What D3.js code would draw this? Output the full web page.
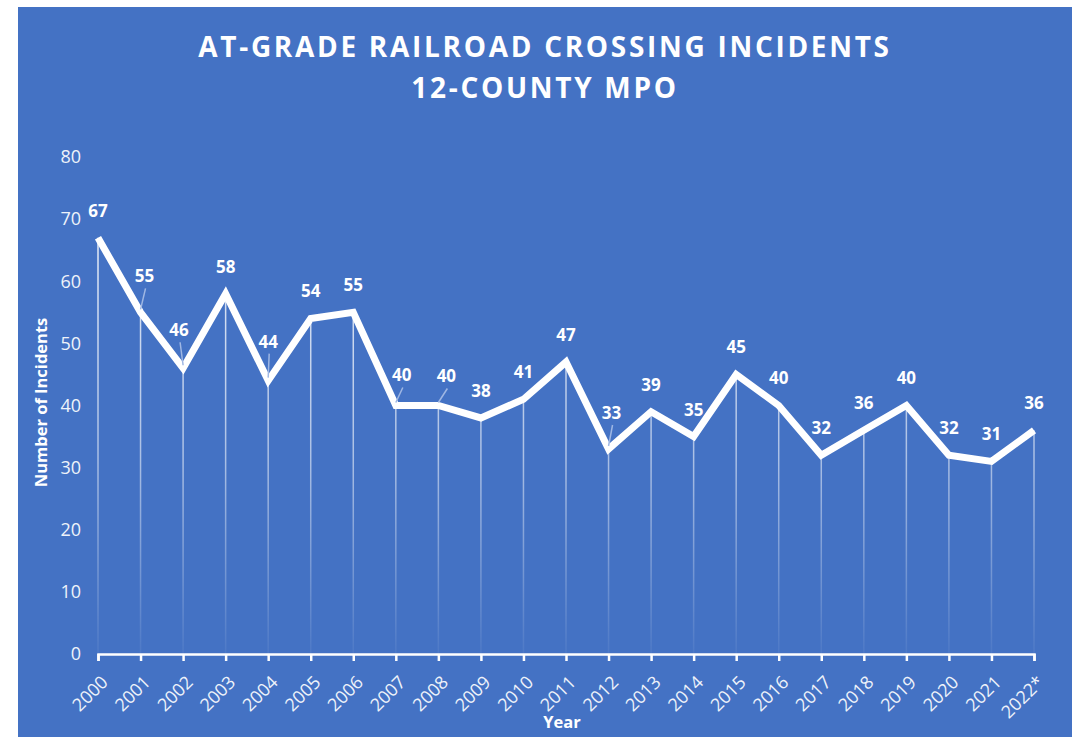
<!DOCTYPE html>
<html>
<head>
<meta charset="utf-8">
<script src="https://cdn.jsdelivr.net/npm/d3@7"></script>
<style>
  body { margin: 0; background: #fff; }
  svg { display: block; }
</style>
</head>
<body>
<div id="chart"></div>
<script>
// data
const years = ['2000', '2001', '2002', '2003', '2004', '2005', '2006', '2007', '2008', '2009', '2010',
  '2011', '2012', '2013', '2014', '2015', '2016', '2017', '2018', '2019', '2020', '2021', '2022*'];
const incidents = [67, 55, 46, 58, 44, 54, 55, 40, 40, 38, 41, 47, 33, 39, 35, 45, 40, 32, 36, 40, 32, 31, 36];
const yTicks = [0, 10, 20, 30, 40, 50, 60, 70, 80];
const titleLines = ['AT-GRADE RAILROAD CROSSING INCIDENTS', '12-COUNTY MPO'];

let width = 1076, height = 737;
let margin = { top: 157, right: 42, bottom: 83, left: 98 };
let w = width - margin.left - margin.right;
let h = height - margin.top - margin.bottom;

let svg = d3.select('#chart').append('svg')
  .attr('width', width)
  .attr('height', height)
  .style('font-family', '"Open Sans", sans-serif');

// blue panel
svg.append('rect')
  .attr('x', 18).attr('y', 7)
  .attr('width', 1054).attr('height', 730)
  .attr('fill', '#4472C4');

let g = svg.append('g')
  .attr('transform', 'translate(' + margin.left + ',' + margin.top + ')');

let xScale = d3.scalePoint().domain(years).range([0, w]);
let yScale = d3.scaleLinear().domain([0, 80]).range([h, 0]);

// fading drop lines
let grad = svg.append('defs').append('linearGradient')
  .attr('id', 'dropFade')
  .attr('gradientUnits', 'userSpaceOnUse')
  .attr('x1', 0).attr('x2', 0)
  .attr('y1', yScale(70)).attr('y2', yScale(0));
grad.append('stop').attr('offset', '0%').attr('stop-color', '#fff').attr('stop-opacity', 0.9);
grad.append('stop').attr('offset', '55%').attr('stop-color', '#fff').attr('stop-opacity', 0.55);
grad.append('stop').attr('offset', '100%').attr('stop-color', '#fff').attr('stop-opacity', 0.05);

g.selectAll('.drop')
  .data(incidents)
  .enter()
  .append('line')
  .attr('class', 'drop')
  .attr('x1', (d, i) => xScale(years[i]))
  .attr('x2', (d, i) => xScale(years[i]) + 0.01)
  .attr('y1', d => yScale(d))
  .attr('y2', yScale(0))
  .attr('stroke', 'url(#dropFade)')
  .attr('stroke-width', 1.5);

// y axis labels (no line)
let yAxis = d3.axisLeft(yScale).tickValues(yTicks).tickSize(0).tickPadding(17);
let yg = g.append('g').call(yAxis);
yg.select('.domain').remove();
yg.selectAll('text')
  .attr('fill', '#eef2fa')
  .style('font-size', '18px')
  .style('font-family', '"Open Sans", sans-serif');

// x axis
let xAxis = d3.axisBottom(xScale).tickSizeInner(7).tickSizeOuter(7);
let xg = g.append('g')
  .attr('transform', 'translate(0,' + h + ')')
  .call(xAxis);
xg.select('.domain').attr('stroke', '#fff').attr('stroke-width', 2.5);
xg.selectAll('.tick line').attr('stroke', '#fff').attr('stroke-width', 2.5);
xg.selectAll('text')
  .attr('fill', '#eef2fa')
  .style('font-size', '18px')
  .style('font-family', '"Open Sans", sans-serif')
  .attr('text-anchor', 'end')
  .attr('x', 0)
  .attr('y', 0)
  .attr('dy', '0.35em')
  .attr('transform', 'translate(6,25) rotate(-45)');

// line
let line = d3.line()
  .x((d, i) => xScale(years[i]))
  .y(d => yScale(d));
g.append('path')
  .datum(incidents)
  .attr('d', line)
  .attr('fill', 'none')
  .attr('stroke', '#fff')
  .attr('stroke-width', 7)
  .attr('stroke-linejoin', 'miter');

// data labels; a few were dragged off the point in the original and got leader lines
let labelNudge = { '2001': [4, -9], '2002': [-4, -11], '2004': [0, -12], '2007': [6, -3], '2008': [8, -2], '2012': [3, -9] };
let labels = g.selectAll('.dlabel')
  .data(incidents)
  .enter()
  .append('g')
  .attr('class', 'dlabel');
labels.each(function(d, i) {
  let nudge = labelNudge[years[i]] || [0, 0];
  let px = xScale(years[i]), py = yScale(d);
  let lx = px + nudge[0], ly = py - 27 + nudge[1];
  let sel = d3.select(this);
  if (labelNudge[years[i]]) {
    sel.append('line')
      .attr('x1', lx + 1).attr('y1', ly + 12)
      .attr('x2', px).attr('y2', py - 3)
      .attr('stroke', '#9fb7e3')
      .attr('stroke-width', 1.5);
  }
  sel.append('text')
    .attr('x', lx)
    .attr('y', ly)
    .attr('dy', '0.35em')
    .attr('text-anchor', 'middle')
    .attr('fill', '#fff')
    .style('font-size', '17px')
    .style('font-weight', 'bold')
    .text(d);
});

// axis titles
svg.append('text')
  .attr('transform', 'translate(41,' + (margin.top + h / 2 - 3) + ') rotate(-90)')
  .attr('dy', '0.35em')
  .attr('text-anchor', 'middle')
  .attr('fill', '#fff')
  .style('font-size', '16.5px')
  .style('font-weight', 'bold')
  .text('Number of Incidents');
svg.append('text')
  .attr('x', 562)
  .attr('y', 722)
  .attr('dy', '0.35em')
  .attr('text-anchor', 'middle')
  .attr('fill', '#fff')
  .style('font-size', '16.5px')
  .style('font-weight', 'bold')
  .text('Year');

// chart title
svg.selectAll('.title')
  .data(titleLines)
  .enter()
  .append('text')
  .attr('class', 'title')
  .attr('x', 545)
  .attr('y', (d, i) => 47 + i * 41)
  .attr('dy', '0.35em')
  .attr('text-anchor', 'middle')
  .attr('fill', '#fff')
  .style('font-size', '28px')
  .style('font-weight', 'bold')
  .style('letter-spacing', '2.7px')
  .text(d => d);
</script>
</body>
</html>
